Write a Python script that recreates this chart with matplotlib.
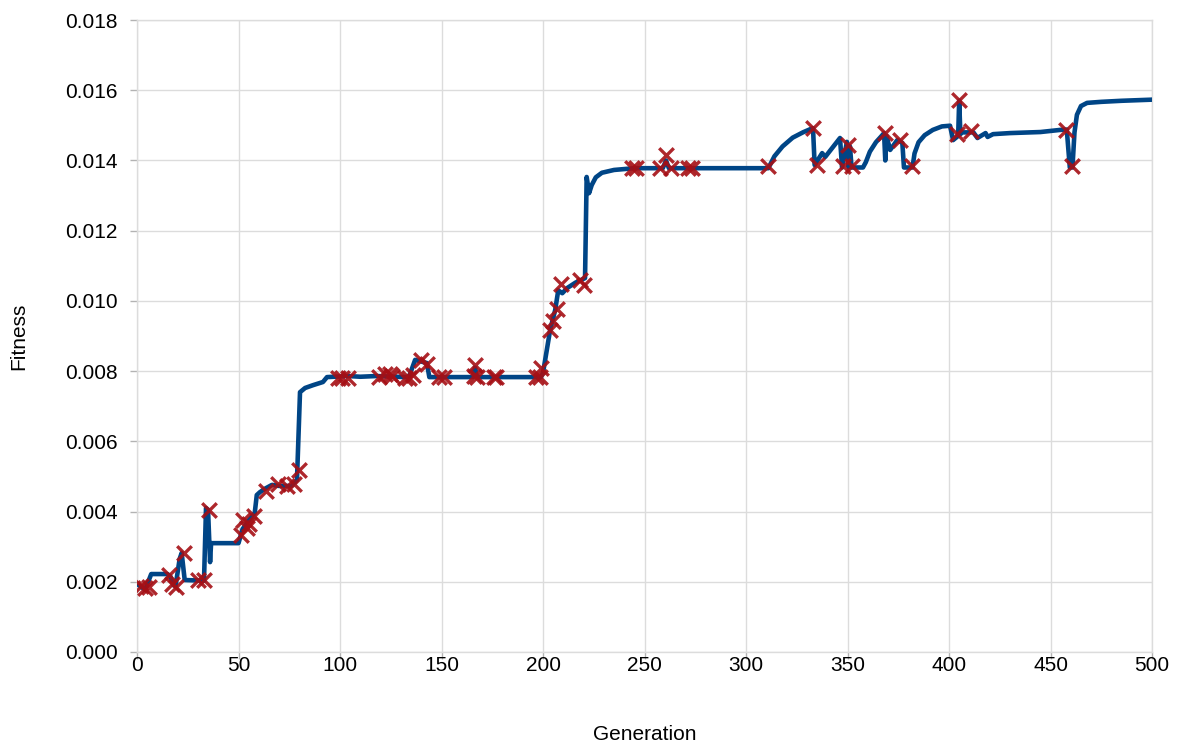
import matplotlib
matplotlib.use('Agg')
import matplotlib.pyplot as plt

# -----------------------------
# Data
# -----------------------------
# best-fitness curve, (generation, fitness) vertices
curve = [(1, 0.00190), (4, 0.00177), (7, 0.00222), (15, 0.00222),
         (16.5, 0.00215), (18, 0.00190), (19, 0.00188), (21, 0.00265),
         (22, 0.00282), (23.5, 0.00205), (33, 0.00203), (34, 0.00410),
         (35, 0.00405), (36, 0.00256), (36.5, 0.00310), (50, 0.00310),
         (52, 0.00350), (55, 0.00375), (58, 0.00396), (59, 0.00447),
         (60.5, 0.00455), (63, 0.00465), (66.5, 0.00476), (70, 0.00473),
         (76, 0.00473), (78.8, 0.00490), (80.3, 0.00740), (82.8, 0.00752),
         (86.7, 0.00760), (91.6, 0.00769), (93.6, 0.00783), (104, 0.00786),
         (110, 0.00784), (118, 0.00786), (132, 0.00783), (134, 0.00785),
         (135, 0.00800), (137, 0.00832), (142.8, 0.00823), (144, 0.00783),
         (150, 0.00783), (165.5, 0.00783), (166.5, 0.00810), (167.5, 0.00783),
         (199, 0.00783), (200, 0.00795), (203.5, 0.00917), (206, 0.00974),
         (207.5, 0.01030), (209.5, 0.01022), (212, 0.01037), (216, 0.01052),
         (220.7, 0.01065), (221.5, 0.01353), (222.7, 0.01307), (224, 0.01330),
         (226, 0.01352), (229, 0.01365), (235, 0.01373), (245, 0.01378),
         (259, 0.01378), (260.6, 0.01400), (262, 0.01378), (311, 0.01378),
         (314, 0.01412), (318, 0.01440), (323, 0.01465), (328, 0.01480),
         (332, 0.01490), (333, 0.01492), (333.8, 0.01387), (337.5, 0.01421),
         (339, 0.01410), (346.3, 0.01464), (347.3, 0.01380), (349.7, 0.01453),
         (350.6, 0.01380), (351.2, 0.01440), (352, 0.01380), (357.6, 0.01380),
         (359, 0.01395), (361, 0.01425), (364, 0.01452), (366.5, 0.01468),
         (368, 0.01478), (368.6, 0.01400), (369.2, 0.01470), (371, 0.01430),
         (374.5, 0.01458), (377, 0.01450), (377.8, 0.01380), (382, 0.01380),
         (383, 0.01420), (385, 0.01452), (388, 0.01472), (392, 0.01487),
         (396.5, 0.01497), (400.5, 0.01499), (402, 0.01458), (404.5, 0.01470),
         (405, 0.01570), (405.6, 0.01475), (406.5, 0.01480), (412, 0.01480),
         (414, 0.01464), (418, 0.01478), (419, 0.01467), (421.7, 0.01475),
         (430, 0.01478), (445, 0.01481), (454.7, 0.01487), (458, 0.01488),
         (459.5, 0.01380), (460.8, 0.01380), (461.8, 0.01480), (463, 0.01530),
         (465, 0.01555), (468, 0.01564), (475, 0.01567), (485, 0.01570),
         (499, 0.01573)]
line_gen = [g for g, f in curve]
line_fit = [f for g, f in curve]

# crossover / mutation events (red crosses)
event_gen = [2, 4, 6, 16, 17, 19, 23, 30, 33, 35.5, 51, 52, 54, 55, 57.6,
             63.5, 69.5, 74, 77.3, 80, 99, 101, 104, 119, 122, 124.6, 125.6,
             132, 134, 136, 140, 143, 149, 151, 166.5, 166, 167.5, 176, 177,
             196.5, 199, 198.5, 203.4, 205, 207, 209, 218, 220, 244, 245.6,
             257.6, 260.6, 263, 271.4, 273.4, 311, 333, 335, 347.8, 350.2,
             352.2, 368.5, 376, 381.8, 405, 404, 411, 457.6, 460.6]
event_fit = [0.00188, 0.00182, 0.00185, 0.00219, 0.00194, 0.00185, 0.00282,
             0.00205, 0.00205, 0.00404, 0.00333, 0.00376, 0.00353, 0.00365,
             0.00387, 0.00459, 0.00478, 0.00473, 0.00478, 0.00518, 0.00780,
             0.00780, 0.00780, 0.00783, 0.00792, 0.00792, 0.00786, 0.00780,
             0.00780, 0.00789, 0.00832, 0.00820, 0.00783, 0.00783, 0.00817,
             0.00786, 0.00783, 0.00783, 0.00783, 0.00783, 0.00809, 0.00783,
             0.00917, 0.00943, 0.00977, 0.01048, 0.01060, 0.01045, 0.01378,
             0.01378, 0.01378, 0.01416, 0.01378, 0.01378, 0.01378, 0.01384,
             0.01492, 0.01387, 0.01384, 0.01444, 0.01384, 0.01478, 0.01458,
             0.01384, 0.01572, 0.01475, 0.01484, 0.01487, 0.01384]

x_ticks = list(range(0, 501, 50))
y_ticks = [i * 0.002 for i in range(10)]

# -----------------------------
# Plot
# -----------------------------
plt.rcParams['font.family'] = ['Liberation Sans', 'DejaVu Sans']

fig = plt.figure(figsize=(11.8, 7.42), dpi=100)
ax = fig.add_axes([0.1161, 0.1213, 0.8602, 0.8517])

ax.plot(line_gen, line_fit, color='#004586', linewidth=3.3, zorder=3,
        solid_joinstyle='round')
ax.scatter(event_gen, event_fit, marker='x', s=110, color='#a50f15',
           linewidths=2.4, alpha=0.9, zorder=4)

ax.set_xlim(0, 500)
ax.set_ylim(0, 0.018)
ax.set_xticks(x_ticks)
ax.set_yticks(y_ticks)
ax.set_yticklabels([f"{v:.3f}" for v in y_ticks])

ax.grid(True, color='#dcdcdc', linewidth=1.0, zorder=0)
ax.set_axisbelow(True)
for s in ax.spines.values():
    s.set_color('#dcdcdc')
    s.set_linewidth(1.0)
ax.tick_params(axis='both', colors='#b3b3b3', labelcolor='black',
               length=5, width=1, labelsize=15)
ax.tick_params(axis='x', pad=-2)
ax.tick_params(axis='y', pad=9)

ax.set_xlabel("Generation", fontsize=15, labelpad=36)
ax.set_ylabel("Fitness", fontsize=15, labelpad=26)

plt.savefig("out.png", dpi=100)
